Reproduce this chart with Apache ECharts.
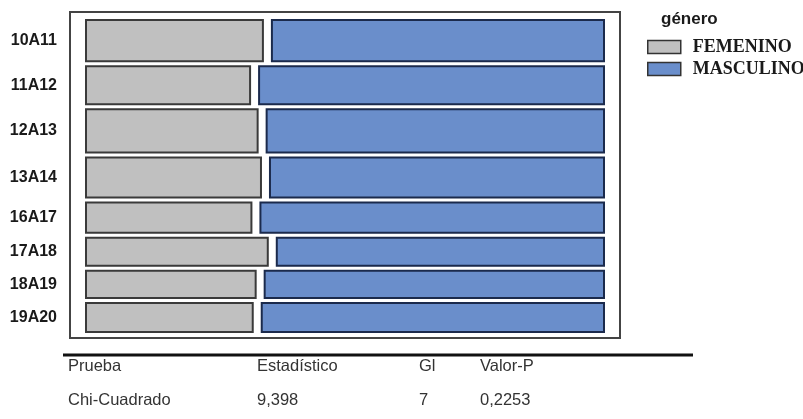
<!DOCTYPE html>
<html>
<head>
<meta charset="utf-8">
<script src="https://cdn.jsdelivr.net/npm/echarts@6/dist/echarts.min.js"></script>
<style>
html,body{margin:0;padding:0;background:#fff;}
#chart{width:803px;height:419px;}
</style>
</head>
<body>
<div id="chart"></div>
<script>
// ---- data (estimated counts read from the mosaic) ----
const categories = ['10A11','11A12','12A13','13A14','16A17','17A18','18A19','19A20'];
const femenino   = [57, 49, 58, 55, 39, 40, 36, 38];
const masculino  = [107,103,114,105, 81, 72, 72, 78];
const seriesNames = ['FEMENINO','MASCULINO'];
const legendTitle = 'género';
const tableHeader = ['Prueba','Estadístico','Gl','Valor-P'];
const tableRow    = ['Chi-Cuadrado','9,398','7','0,2253'];

// ---- styling ----
const fillColors   = ['#c0c0c0', '#6a8ecb'];
const borderColors = ['#3a3a3a', '#1b2a4c'];
const GAP_Y = 5/312;   // fraction of y extent
const GAP_X = 9/518;   // fraction of x extent

const totals = categories.map((c,i)=>femenino[i]+masculino[i]);
const grand = totals.reduce((a,b)=>a+b,0);
const availY = 1 - GAP_Y*(categories.length-1);
const rowTop = [];
let acc = 0;
totals.forEach((t,i)=>{ rowTop.push(acc + i*GAP_Y); acc += t/grand*availY; });

function makeRender(sIdx){
  return function(params, api){
    const i = api.value(0);
    const h = totals[i]/grand*availY;
    const y0 = rowTop[i], y1 = y0 + h;
    const fShare = femenino[i]/totals[i]*(1-GAP_X);
    let x0, x1;
    if (sIdx === 0){ x0 = 0; x1 = fShare; }
    else { x0 = fShare + GAP_X; x1 = 1; }
    const p0 = api.coord([x0, y0]);
    const p1 = api.coord([x1, y1]);
    const children = [{
      type:'rect',
      shape:{x:p0[0], y:p0[1], width:p1[0]-p0[0], height:p1[1]-p0[1]},
      style:{fill:fillColors[sIdx], stroke:borderColors[sIdx], lineWidth:2}
    }];
    if (sIdx === 0){
      children.push({
        type:'text',
        x: params.coordSys.x - 13,
        y: (p0[1]+p1[1])/2,
        style:{text:categories[i], fill:'#1a1a1a', font:'bold 16px "Liberation Sans", Arial, sans-serif',
               textAlign:'right', textVerticalAlign:'middle'}
      });
    }
    return {type:'group', children};
  };
}

const textFont = '16.5px "Liberation Sans", Arial, sans-serif';
const colX = [68, 257, 419, 480];
const graphics = [
  {type:'line', shape:{x1:63, y1:355, x2:693, y2:355}, style:{stroke:'#111', lineWidth:3}}
];
tableHeader.forEach((t,k)=>graphics.push({type:'text', left:colX[k], top:358, style:{text:t, font:textFont, fill:'#333'}}));
tableRow.forEach((t,k)=>graphics.push({type:'text', left:colX[k], top:392, style:{text:t, font:textFont, fill:'#333'}}));

const chart = echarts.init(document.getElementById('chart'));
chart.setOption({
  animation:false,
  backgroundColor:'#fff',
  title:{text:legendTitle, left:661, top:11, padding:0,
    textStyle:{fontFamily:'"Liberation Sans", Arial, sans-serif', fontWeight:'bold', fontSize:17, color:'#1a1a1a'}},
  legend:{
    orient:'vertical', left:647, top:38, padding:0,
    itemWidth:33, itemHeight:13, itemGap:4, selectedMode:false,
    icon:'rect',
    textStyle:{fontFamily:'"Liberation Serif", "Times New Roman", serif', fontWeight:'bold', fontSize:18, color:'#1a1a1a', lineHeight:18, padding:[0,0,0,7]},
    data: seriesNames.map((n,k)=>({name:n, itemStyle:{color:fillColors[k], borderColor:'#333', borderWidth:1.5}}))
  },
  grid:{left:70, top:12, width:550, height:326, show:true, borderColor:'#444', borderWidth:2, backgroundColor:'#fff'},
  xAxis:{type:'value', min:-16/518, max:1+16/518, show:false},
  yAxis:{type:'value', inverse:true, min:-8/312, max:1+6/312, show:false},
  series: seriesNames.map((n,k)=>({
    name:n, type:'custom', renderItem:makeRender(k),
    itemStyle:{color:fillColors[k]},
    data: categories.map((c,i)=>[i]),
    encode:{x:-1, y:-1}
  })),
  graphic: graphics
});
</script>
</body>
</html>
